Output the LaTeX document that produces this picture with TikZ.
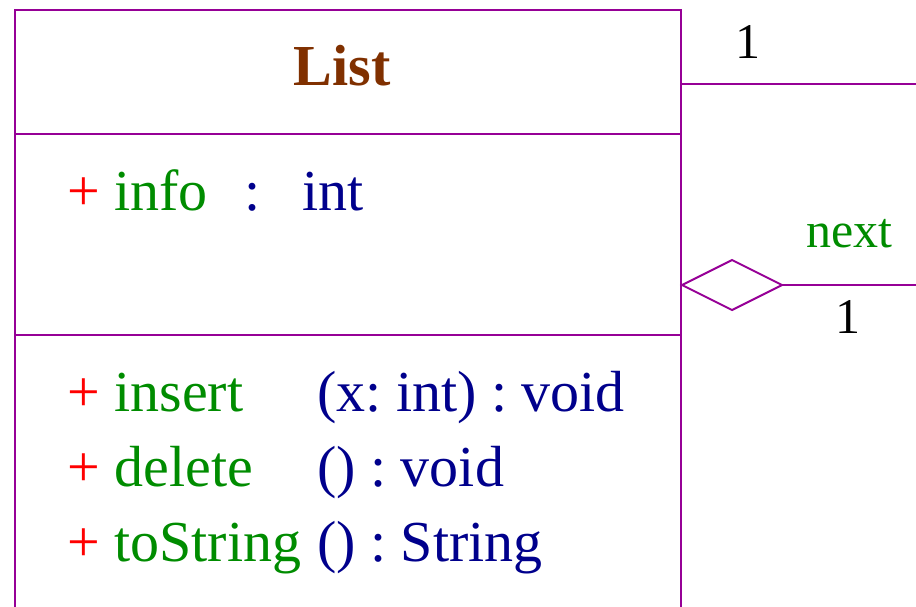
\documentclass[tikz,border=0pt]{standalone}
\usepackage{fontspec}
\setmainfont{Liberation Serif}
\usetikzlibrary{shapes.geometric}
\definecolor{umlline}{RGB}{150,0,150}
\definecolor{umlbrown}{RGB}{128,48,0}
\definecolor{umlgreen}{RGB}{0,140,0}
\definecolor{umlblue}{RGB}{0,0,140}
\definecolor{umlred}{RGB}{255,0,0}
\newcommand{\thinsp}{\hspace{0.25em}}
\begin{document}
\begin{tikzpicture}[x=1pt,y=-1pt,
  uml/.style={draw=umlline, line width=2pt},
  txt/.style={anchor=base west, inner sep=0pt, font=\fontsize{58}{60}\selectfont},
  lbl/.style={anchor=base west, inner sep=0pt, font=\fontsize{50}{52}\selectfont},
]
\useasboundingbox (0,0) rectangle (916,606);
\node[uml, rectangle, minimum width=666pt, minimum height=660pt, anchor=north west, inner sep=0pt] (list) at (14,9) {};
\coordinate (r1) at (0,134);
\coordinate (r3) at (0,335);
\draw[uml] (list.west |- r1) -- (list.east |- r1);
\draw[uml] (list.west |- r3) -- (list.east |- r3);
\node[anchor=base, inner sep=0pt, font=\fontsize{58}{60}\selectfont\bfseries, text=umlbrown] (title) at (342,85) {List};
\node[txt] (attrname) at (67,210) {\textcolor{umlred}{+} \textcolor{umlgreen}{info}};
\node[txt, text=umlblue] (attrcolon) at (244,210) {:};
\node[txt, text=umlblue] (attrtype) at (302,210) {int};
\node[txt] (m1name) at (67,411) {\textcolor{umlred}{+} \textcolor{umlgreen}{insert}};
\node[txt, text=umlblue] (m1sig) at (317,411) {(x:\thinsp int)\thinsp :\thinsp void};
\node[txt] (m2name) at (67,486) {\textcolor{umlred}{+} \textcolor{umlgreen}{delete}};
\node[txt, text=umlblue] (m2sig) at (317,486) {()\thinsp :\thinsp void};
\node[txt] (m3name) at (67,561) {\textcolor{umlred}{+} \textcolor{umlgreen}{toString}};
\node[txt, text=umlblue] (m3sig) at (317,561) {()\thinsp :\thinsp String};
% associations
\coordinate (e1) at (920,84);
\coordinate (r2) at (0,285);
\coordinate (e2) at (920,285);
\draw[uml] (list.east |- e1) -- (e1);
\node[diamond, uml, minimum width=100pt, minimum height=50pt, inner sep=0pt, outer sep=0pt, anchor=west] (agg) at (list.east |- r2) {};
\draw[uml] (agg.east) -- (e2);
\node[lbl] (mult1) at (735,58) {1};
\node[lbl, text=umlgreen] (role) at (806,247) {next};
\node[lbl] (mult2) at (835,333) {1};
\end{tikzpicture}
\end{document}
